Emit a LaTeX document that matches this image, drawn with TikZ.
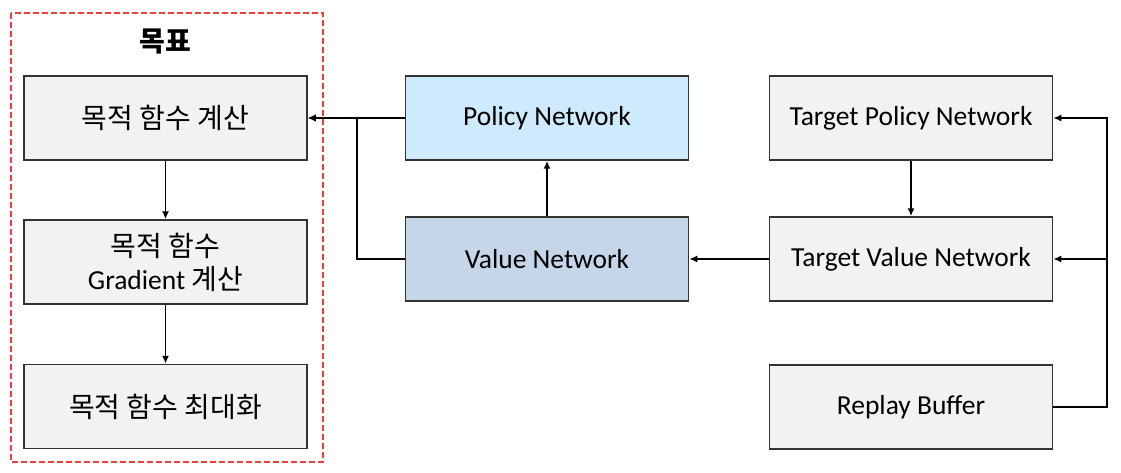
\documentclass[tikz,border=0pt]{standalone}
\usepackage{fontspec}
\setmainfont{Carlito}
\newfontfamily\kr{Noto Sans CJK KR}
\usetikzlibrary{arrows.meta}
\definecolor{boxgray}{HTML}{F2F2F2}
\definecolor{policyblue}{HTML}{CDEBFC}
\definecolor{valueblue}{HTML}{C4D6E7}
\definecolor{goalred}{HTML}{F03C3C}

\begin{document}
\begin{tikzpicture}[x=1pt, y=-1pt,
        box/.style={rectangle, draw=black!80, line width=1.5pt, fill=boxgray,
                    minimum width=283pt, minimum height=84pt, inner sep=0pt,
                    align=center, font=\fontsize{27.5}{31}\selectfont},
        krbox/.style={box, font=\fontsize{28}{33}\selectfont\kr},
        conn/.style={line width=1.7pt, -{Latex[length=8pt, width=7pt]}},
        goal/.style={draw=goalred, line width=1.2pt, dash pattern=on 6pt off 3pt}]
      \useasboundingbox (0,0) rectangle (1121,473);
      % goal column
      \draw[goal] (11,13) rectangle (323,462);
      \node[font=\fontsize{28}{30}\selectfont\kr\bfseries] (title) at (165.5,42) {목표};
      \node[krbox] (obj) at (165.5,118) {목적 함수 계산};
      \node[krbox] (grad) at (165.5,262) {목적 함수\\{\rmfamily\fontsize{27.5}{33}\selectfont Gradient} 계산};
      \node[krbox] (maxi) at (165.5,406.5) {목적 함수 최대화};
      \draw[conn] (obj) -- (grad);
      \draw[conn] (grad) -- (maxi);
      % networks
      \node[box, fill=policyblue] (pn) at (547,118) {Policy Network};
      \node[box, fill=valueblue] (vn) at (547,259) {Value Network};
      \node[box] (tpn) at (911,118) {Target Policy Network};
      \node[box] (tvn) at (911,259) {Target Value Network};
      \node[box] (rb) at (911,407) {Replay Buffer};
      \draw[conn] (pn) -- (obj);
      \draw[conn] (vn.west) -- ++(-48,0) |- (obj.east);
      \draw[conn] (vn) -- (pn);
      \draw[conn] (tvn) -- (vn);
      \draw[conn] (tpn) -- (tvn);
      \draw[conn] (rb.east) -- ++(54,0) coordinate (bus) |- (tpn.east);
      \draw[conn] (bus |- tvn.east) -- (tvn.east);
    \end{tikzpicture}
\end{document}
